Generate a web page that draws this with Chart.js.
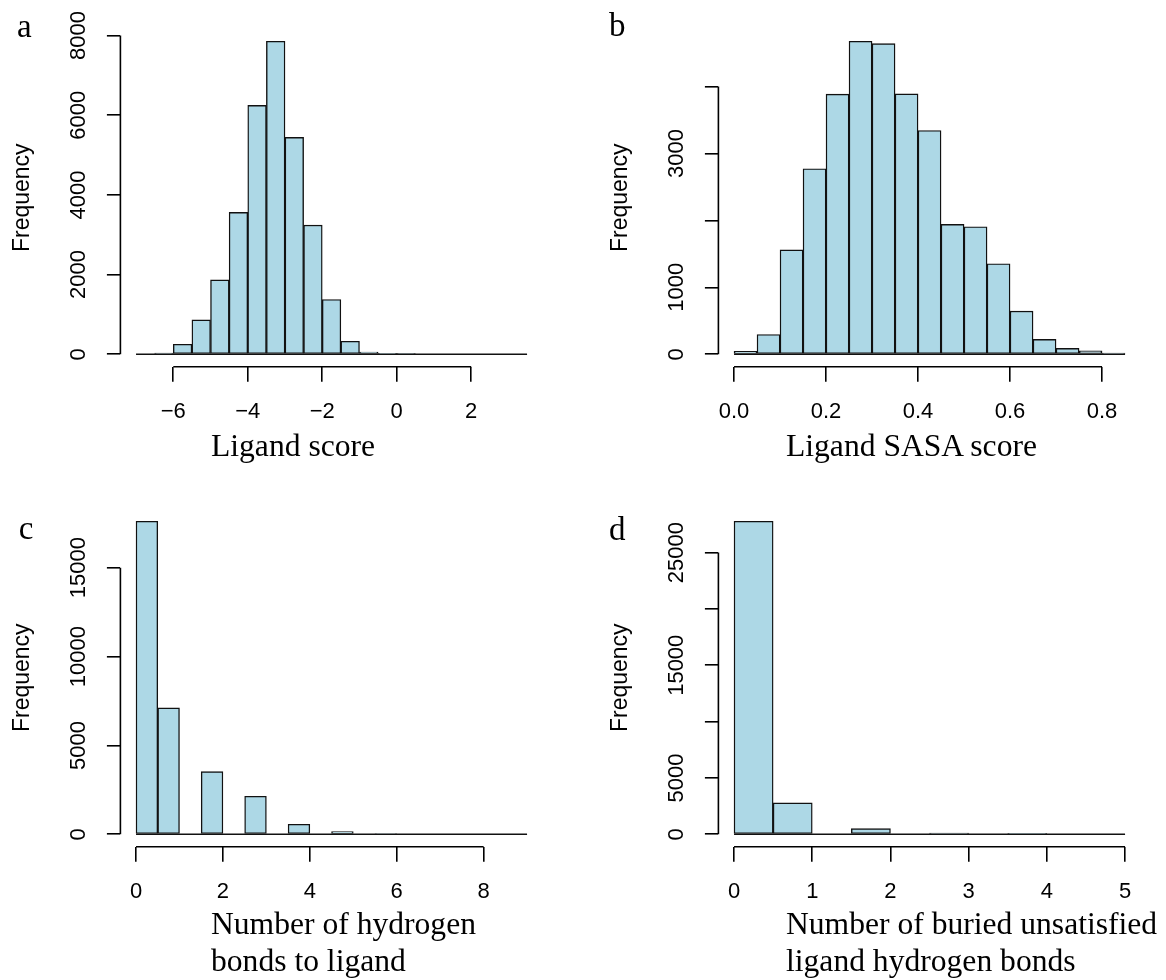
<!DOCTYPE html>
<html>
<head>
<meta charset="utf-8">
<title>Ligand histograms</title>
<script src="https://cdn.jsdelivr.net/npm/chart.js@4.4.1/dist/chart.umd.min.js"></script>
<style>
  html, body { margin: 0; padding: 0; background: #fff; }
  #fig { position: relative; width: 1166px; height: 980px; overflow: hidden; }
  #fig canvas { position: absolute; }
  .tag, .xtitle {
    position: absolute;
    font-family: "Liberation Serif", "Times New Roman", serif;
    color: #000;
    white-space: nowrap;
  }
  .tag { font-size: 33px; line-height: 33px; }
  .xtitle { font-size: 31.6px; line-height: 36.7px; }
</style>
</head>
<body>
<div id="fig">
  <canvas id="histScore" width="598" height="490" style="left:0;top:0"></canvas>
  <canvas id="histSasa" width="568" height="490" style="left:598px;top:0"></canvas>
  <canvas id="histHbond" width="598" height="490" style="left:0;top:480px"></canvas>
  <canvas id="histBuried" width="568" height="490" style="left:598px;top:480px"></canvas>

  <div class="tag" style="left:17px;top:9.7px">a</div>
  <div class="tag" style="left:609px;top:9.1px">b</div>
  <div class="tag" style="left:18.8px;top:512.4px">c</div>
  <div class="tag" style="left:609px;top:513.4px">d</div>

  <div class="xtitle" style="left:211px;top:427.7px">Ligand score</div>
  <div class="xtitle" style="left:786px;top:427.7px">Ligand SASA score</div>
  <div class="xtitle" style="left:211px;top:906px">Number of hydrogen<br>bonds to ligand</div>
  <div class="xtitle" style="left:786px;top:906px">Number of buried unsatisfied<br>ligand hydrogen bonds</div>
</div>

<script>
// a: ligand score, bins of 0.5
const scoreBreaks = [-7, -6.5, -6, -5.5, -5, -4.5, -4, -3.5, -3, -2.5, -2, -1.5, -1, -0.5, 0, 0.5, 1, 1.5, 2, 2.5, 3, 3.5];
const scoreCounts = [0, 30, 251, 863, 1868, 3560, 6249, 7858, 5445, 3242, 1374, 327, 55, 15, 5, 0, 0, 0, 0, 0, 0];
const scoreXTicks = [-6, -4, -2, 0, 2];
const scoreXLabels = ['\u22126', '\u22124', '\u22122', '0', '2'];
const scoreYTicks = [0, 2000, 4000, 6000, 8000];
const scoreYLabels = ['0', '2000', '4000', '6000', '8000'];

// b: ligand SASA score, bins of 0.05
const sasaBreaks = [0, 0.05, 0.1, 0.15, 0.2, 0.25, 0.3, 0.35, 0.4, 0.45, 0.5, 0.55, 0.6, 0.65, 0.7, 0.75, 0.8, 0.85];
const sasaCounts = [45, 295, 1560, 2771, 3886, 4677, 4642, 3891, 3343, 1940, 1905, 1352, 645, 222, 88, 50, 18];
const sasaXTicks = [0, 0.2, 0.4, 0.6, 0.8];
const sasaXLabels = ['0.0', '0.2', '0.4', '0.6', '0.8'];
const sasaYTicks = [0, 1000, 2000, 3000, 4000];
const sasaYLabels = ['0', '1000', '', '3000', ''];

// c: hydrogen bonds to ligand
const hbondBreaks = [0, 0.5, 1, 1.5, 2, 2.5, 3, 3.5, 4, 4.5, 5, 5.5, 6, 6.5, 7, 7.5, 8, 8.5, 9];
const hbondCounts = [17617, 7111, 0, 3527, 0, 2139, 0, 563, 0, 150, 0, 45, 0, 0, 0, 0, 0, 0];
const hbondXTicks = [0, 2, 4, 6, 8];
const hbondXLabels = ['0', '2', '4', '6', '8'];
const hbondYTicks = [0, 5000, 10000, 15000];
const hbondYLabels = ['0', '5000', '10000', '15000'];

// d: buried unsatisfied ligand hydrogen bonds
const buriedBreaks = [0, 0.5, 1, 1.5, 2, 2.5, 3, 3.5, 4, 4.5, 5];
const buriedCounts = [27781, 2781, 0, 503, 0, 110, 0, 55, 0, 0];
const buriedXTicks = [0, 1, 2, 3, 4, 5];
const buriedXLabels = ['0', '1', '2', '3', '4', '5'];
const buriedYTicks = [0, 5000, 10000, 15000, 20000, 25000];
const buriedYLabels = ['0', '5000', '', '15000', '', '25000'];

Chart.defaults.font.family = '"Liberation Sans", Arial, sans-serif';
Chart.defaults.color = '#000';

// axis lines only run from first to last tick, plus the flat line under all bins
function axisLines(breaks) {
  return {
    id: 'axisLines',
    afterDatasetsDraw(chart) {
      const { ctx, chartArea, scales: { x, y } } = chart;
      const xt = x.ticks, yt = y.ticks;
      ctx.save();
      ctx.strokeStyle = '#000';
      ctx.lineWidth = 1.6;
      ctx.beginPath();
      ctx.moveTo(x.getPixelForValue(xt[0].value), chartArea.bottom);
      ctx.lineTo(x.getPixelForValue(xt[xt.length - 1].value), chartArea.bottom);
      ctx.moveTo(chartArea.left, y.getPixelForValue(yt[0].value));
      ctx.lineTo(chartArea.left, y.getPixelForValue(yt[yt.length - 1].value));
      ctx.stroke();

      const y0 = y.getPixelForValue(0);
      ctx.strokeStyle = '#111';
      ctx.lineWidth = 1.4;
      ctx.beginPath();
      ctx.moveTo(x.getPixelForValue(breaks[0]), y0);
      ctx.lineTo(x.getPixelForValue(breaks[breaks.length - 1]), y0);
      ctx.stroke();
      ctx.restore();
    }
  };
}

function histogram(id, breaks, counts, xTicks, xLabels, yTicks, yLabels, rightPad, yLabelPad) {
  const centers = counts.map((c, i) => (breaks[i] + breaks[i + 1]) / 2);
  const span = breaks[breaks.length - 1] - breaks[0];
  const top = Math.max(...counts);

  const tickGrid = len => ({
    offset: false,
    drawOnChartArea: false,
    drawTicks: true,
    tickLength: len,
    color: '#000',
    lineWidth: 1.6
  });

  return new Chart(document.getElementById(id), {
    type: 'bar',
    data: {
      datasets: [{
        data: counts.map((c, i) => ({ x: centers[i], y: c })),
        backgroundColor: '#add8e6',
        borderColor: '#111',
        borderWidth: 1.4,
        borderSkipped: false,
        barPercentage: 1,
        categoryPercentage: 1
      }]
    },
    options: {
      responsive: false,
      animation: false,
      events: [],
      layout: { padding: { left: 0, top: 28.7, right: rightPad, bottom: 0 } },
      plugins: { legend: { display: false }, tooltip: { enabled: false } },
      scales: {
        x: {
          type: 'linear',
          min: breaks[0] - span * 0.04,
          max: breaks[breaks.length - 1] + span * 0.04,
          offset: false,
          bounds: 'data',
          grid: tickGrid(15),
          border: { display: false },
          ticks: {
            autoSkip: false,
            minRotation: 0,
            maxRotation: 0,
            padding: 17,
            font: { size: 22 },
            callback: (v, i) => xLabels[i]
          },
          afterBuildTicks: s => { s.ticks = xTicks.map(v => ({ value: v })); },
          afterFit: s => { s.height = 123.2; }
        },
        y: {
          type: 'linear',
          min: -0.04 * top,
          max: 1.04 * top,
          bounds: 'data',
          grid: tickGrid(13.5),
          border: { display: false },
          ticks: {
            autoSkip: false,
            minRotation: 90,
            maxRotation: 90,
            crossAlign: 'center',
            padding: yLabelPad,
            font: { size: 22 },
            callback: (v, i) => yLabels[i]
          },
          title: {
            display: true,
            text: 'Frequency',
            font: { size: 23 },
            padding: { top: 9, bottom: 0 }
          },
          afterBuildTicks: s => { s.ticks = yTicks.map(v => ({ value: v })); },
          afterFit: s => { s.width = 120.4; }
        }
      }
    },
    plugins: [axisLines(breaks)]
  });
}

histogram('histScore', scoreBreaks, scoreCounts, scoreXTicks, scoreXLabels, scoreYTicks, scoreYLabels, 55.3, 3);
histogram('histSasa', sasaBreaks, sasaCounts, sasaXTicks, sasaXLabels, sasaYTicks, sasaYLabels, 25.3, 3);
histogram('histHbond', hbondBreaks, hbondCounts, hbondXTicks, hbondXLabels, hbondYTicks, hbondYLabels, 55.3, -3.1);
histogram('histBuried', buriedBreaks, buriedCounts, buriedXTicks, buriedXLabels, buriedYTicks, buriedYLabels, 25.3, -3.1);
</script>
</body>
</html>
